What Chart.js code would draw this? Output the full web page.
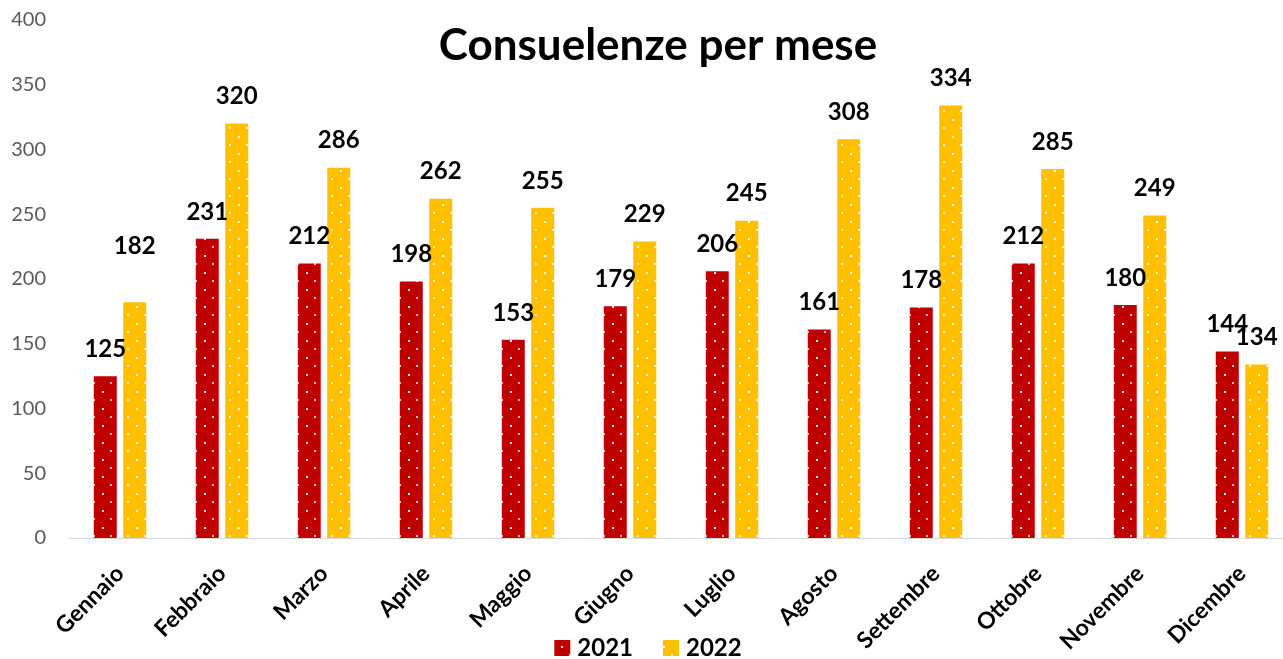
<!DOCTYPE html>
<html>
<head>
<meta charset="utf-8">
<script src="https://cdn.jsdelivr.net/npm/chart.js@4"></script>
<style>
html,body{margin:0;padding:0;background:#fff;overflow:hidden}
#wrap{width:1283px;height:659px;overflow:hidden}
</style>
</head>
<body>
<!-- the plot runs a little past the right edge, as in the original -->
<div id="wrap"><canvas id="c" width="1293" height="659"></canvas></div>
<script>
const months = ["Gennaio","Febbraio","Marzo","Aprile","Maggio","Giugno","Luglio","Agosto","Settembre","Ottobre","Novembre","Dicembre"]
const values2021 = [125,231,212,198,153,179,206,161,178,212,180,144]
const values2022 = [182,320,286,262,255,229,245,308,334,285,249,134]
const yTicks = [0,50,100,150,200,250,300,350,400]

const font = "Lato, 'Open Sans', sans-serif"

function dotted(color){
const p = document.createElement("canvas")
p.width = 17
p.height = 17
const g = p.getContext("2d")
g.fillStyle = color
g.fillRect(0,0,17,17)
g.fillStyle = "rgba(255,255,255,0.95)"
g.fillRect(0,0,2,2)
g.fillStyle = "rgba(255,255,255,0.75)"
g.fillRect(8,8,2,2)
return g.createPattern(p,"repeat")
}

const ctx = document.getElementById("c").getContext("2d")

// extra lift for labels moved by hand in the original
const lift = {"1-0": 29}

const valueLabels = {
id:"valueLabels",
afterDatasetsDraw(chart){
const c = chart.ctx
c.save()
c.font = "bold 24px " + font
c.fillStyle = "#000"
c.textAlign = "center"
c.textBaseline = "middle"
chart.data.datasets.forEach((ds,di)=>{
chart.getDatasetMeta(di).data.forEach((bar,i)=>{
const extra = lift[di+"-"+i] || 0
c.fillText(ds.data[i], bar.x, bar.y - 27 - extra)
})
})
c.restore()
}
}

const bigTitle = {
id:"bigTitle",
afterDraw(chart){
const c = chart.ctx
c.save()
c.font = "bold 44px " + font
c.fillStyle = "#000"
c.textAlign = "center"
c.textBaseline = "middle"
c.fillText("Consuelenze per mese", 658, 46)
c.restore()
}
}

// legend sits inside the band of the rotated month labels, so draw it by hand
const bottomLegend = {
id:"bottomLegend",
afterDraw(chart){
const c = chart.ctx
c.save()
c.font = "bold 24px " + font
c.textBaseline = "middle"
const items = chart.data.datasets.map(ds=>({text:ds.label, fill:ds.backgroundColor, w:c.measureText(ds.label).width}))
const box = 16, gap = 7, sep = 30
let total = 0
items.forEach((it,i)=>{ total += box + gap + it.w + (i ? sep : 0) })
let x = 648 - total/2
const y = 648
items.forEach(it=>{
c.fillStyle = it.fill
c.fillRect(x, y - box/2, box, box)
x += box + gap
c.fillStyle = "#000"
c.fillText(it.text, x, y)
x += it.w + sep
})
c.restore()
}
}

new Chart(ctx,{
type:"bar",
data:{
labels: months,
datasets:[{
label:"2021",
data: values2021,
backgroundColor: dotted("#C00000"),
borderWidth:0,
categoryPercentage:0.578,
barPercentage:0.78
},{
label:"2022",
data: values2022,
backgroundColor: dotted("#FFC000"),
borderWidth:0,
categoryPercentage:0.578,
barPercentage:0.78
}]
},
options:{
responsive:false,
animation:false,
layout:{padding:{top:0,right:0,left:0,bottom:0}},
plugins:{
legend:{display:false},
tooltip:{enabled:false}
},
scales:{
x:{
grid:{display:false},
border:{color:"#d9d9d9",width:1},
ticks:{
color:"#000",
minRotation:45,
maxRotation:45,
padding:14,
font:{family:font,size:23,weight:"bold"}
},
afterFit(s){ s.height = 121; s.paddingTop = 0 }
},
y:{
min:0,
max:400,
afterBuildTicks(s){ s.ticks = yTicks.map(v=>({value:v})) },
grid:{display:false},
border:{display:false},
ticks:{
color:"#595959",
padding:15,
font:{family:font,size:20}
},
afterFit(s){ s.width = 69; s.paddingTop = 20 }
}
}
},
plugins:[valueLabels,bigTitle,bottomLegend]
})
</script>
</body>
</html>
